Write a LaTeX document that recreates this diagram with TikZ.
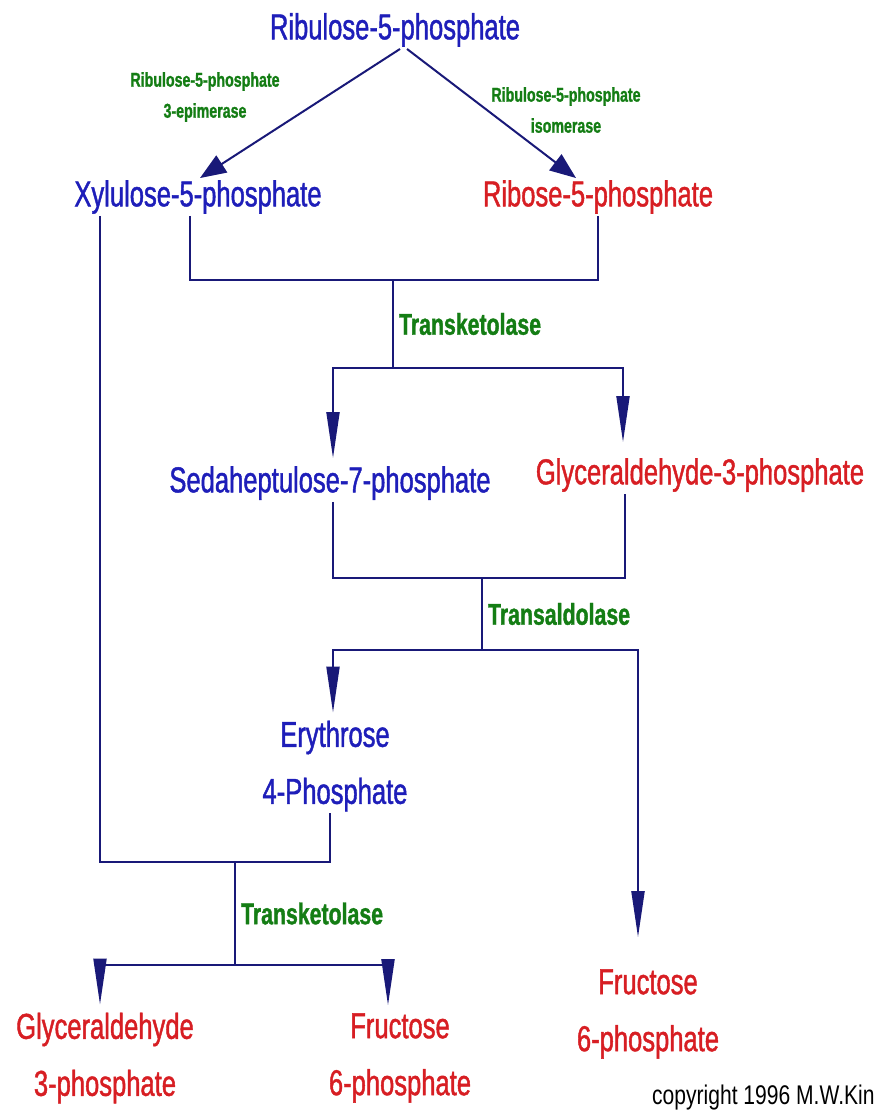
\documentclass[tikz,border=0pt]{standalone}
\usepackage{fontspec}
\setmainfont{Liberation Sans}[FakeStretch=0.71, FakeBold=1.2, BoldFeatures={FakeStretch=0.71}]
\newfontfamily\copyfont{Liberation Sans}[FakeStretch=0.78]
\usepackage{tikz}
\usetikzlibrary{arrows.meta, positioning, calc}
\definecolor{ppblue}  {RGB}{ 30,  30, 185}
\definecolor{ppred}   {RGB}{215,  30,  35}
\definecolor{ppgreen} {RGB}{ 20, 125,  20}
\definecolor{ppnavy}  {RGB}{ 25,  25, 120}

\tikzset{
	metab/.style={font=\fontsize{36}{57}\selectfont, align=center, inner sep=2pt},
	bluemet/.style={metab, text=ppblue},
	redmet/.style={metab, text=ppred},
	enz/.style={font=\fontsize{30}{32}\selectfont\bfseries, text=ppgreen, inner sep=2pt},
	smallenz/.style={font=\fontsize{20}{31}\selectfont\bfseries, text=ppgreen, align=center},
	link/.style={draw=ppnavy, line width=2pt},
	arr/.style={link, -{Triangle[length=46pt,width=13pt]}},
	darr/.style={link, -{Triangle[length=26pt,width=20pt]}}
}

\begin{document}
\begin{tikzpicture}[x=1pt,y=-1pt]
	\useasboundingbox (0,0) rectangle (876,1114);

	% metabolites
	\node[bluemet] (rib)  at (395,30)   {Ribulose-5-phosphate};
	\node[bluemet] (xyl)  at (198,197)  {Xylulose-5-phosphate};
	\node[redmet]  (r5p)  at (598,197)  {Ribose-5-phosphate};
	\node[bluemet] (sed)  at (330,483)  {Sedaheptulose-7-phosphate};
	\node[redmet]  (g3p)  at (700,475)  {Glyceraldehyde-3-phosphate};
	\node[bluemet] (ery)  at (335,766)  {Erythrose\\4-Phosphate};
	\node[redmet]  (f6pr) at (648,1014) {Fructose\\6-phosphate};
	\node[redmet]  (g3pb) at (105,1058) {Glyceraldehyde\\3-phosphate};
	\node[redmet]  (f6pb) at (400,1058) {Fructose\\6-phosphate};

	% enzymes of the first step
	\node[smallenz] (epi) at (205,97)  {Ribulose-5-phosphate\\3-epimerase};
	\node[smallenz] (iso) at (566,110) {Ribulose-5-phosphate\\isomerase};

	% junctions
	\coordinate (j1) at (393,280);
	\coordinate (j2) at (393,368);
	\coordinate (j3) at (482,578);
	\coordinate (j4) at (482,650);
	\coordinate (j5) at (235,862);
	\coordinate (j6) at (235,965);

	\draw[darr] ([xshift=5]rib.south) -- ([xshift=2]xyl.north);
	\draw[darr] ([xshift=12]rib.south) -- ([xshift=-22]r5p.north);

	% transketolase
	\draw[link] ([xshift=-8]xyl.south) |- (j1) -| (r5p.south);
	\draw[link] (j1) -- node[enz, right=3pt] {Transketolase} (j2);
	\draw[arr] (j2) -| ([xshift=3,yshift=6]sed.north);
	\draw[arr] (j2) -| ([xshift=-77,yshift=14]g3p.north);

	% transaldolase
	\draw[link] ([xshift=3]sed.south) |- (j3) -| ([xshift=-75]g3p.south);
	\draw[link] (j3) -- node[enz, right=3pt] {Transaldolase} (j4);
	\draw[arr] (j4) -| ([xshift=-2,yshift=6]ery.north);
	\draw[arr] (j4) -| ([xshift=-10,yshift=30]f6pr.north);

	% second transketolase
	\draw[link] ([xshift=-98]xyl.south) |- (j5) -| ([xshift=-5]ery.south);
	\draw[link] (j5) -- node[enz, right=3pt] {Transketolase} (j6);
	\draw[arr] (j6) -| ([xshift=-5,yshift=6]g3pb.north);
	\draw[arr] (j6) -| ([xshift=-12,yshift=6]f6pb.north);

	\node[anchor=west, font=\copyfont\fontsize{27}{30}\selectfont, inner sep=1pt] (copy) at (651,1098) {copyright 1996 M.W.Kin};
\end{tikzpicture}
\end{document}
